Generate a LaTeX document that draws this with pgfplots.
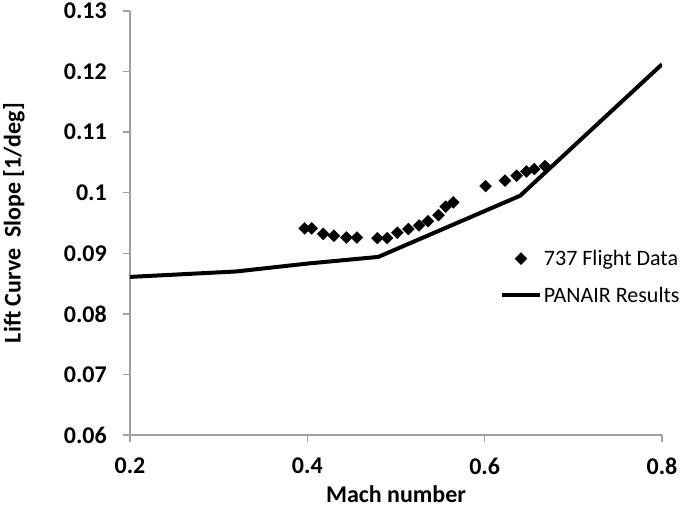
\documentclass[border=0pt]{standalone}
\usepackage{fontspec}
\setmainfont{Carlito}
\usepackage{pgfplots}
\pgfplotsset{compat=1.18}
\definecolor{axgray}{RGB}{160,160,160}
\pgfplotsset{
  markleg/.style={legend image code/.code={\path[draw=none,fill=none] (0pt,0pt) -- (38pt,0pt);\draw[##1] plot coordinates {(19pt,0pt)};}},
  lineleg/.style={legend image code/.code={\draw[##1] (0pt,0pt) -- (38pt,0pt);}},
}

\begin{document}
\begin{tikzpicture}[x=1pt,y=1pt]
\begin{axis}[
  scale only axis, width=532pt, height=424pt,
  at={(130pt,81pt)}, anchor=south west,
  xmin=0.2, xmax=0.8, ymin=0.06, ymax=0.13,
  axis x line*=bottom, axis y line*=left,
  axis line style={axgray, line width=1.5pt},
  xtick={0.2,0.4,0.6,0.8},
  ytick={0.06,0.07,0.08,0.09,0.1,0.11,0.12,0.13},
  tick align=outside, major tick length=7pt,
  tick style={axgray, line width=1.5pt},
  /pgf/number format/assume math mode=true,
  /pgf/number format/fixed, /pgf/number format/precision=2,
  ticklabel style={font=\fontsize{24}{28}\selectfont\bfseries},
  yticklabel style={anchor=east, inner sep=0pt, xshift=-16pt},
  xticklabel style={anchor=north, inner sep=0pt, yshift=-16pt},
  xlabel={Mach number},
  ylabel={Lift Curve\ \ Slope [1/deg]},
  label style={font=\fontsize{24}{28}\selectfont\bfseries},
  xlabel style={at={(axis description cs:0.5,-0.139)}, anchor=center},
  ylabel style={at={(axis description cs:-0.218,0.5)}, anchor=center},
  legend style={at={(axis description cs:0.695,0.441)}, anchor=north west,
    draw=none, fill=none, font=\fontsize{22}{26}\selectfont,
    row sep=16pt, inner sep=0pt, nodes={inner sep=2pt}},
  legend cell align=left,
]
\addplot[only marks, mark=square*, mark size=4.2pt, mark options={rotate=45, black, fill=black}, markleg]
coordinates {
(0.397,0.0941)(0.405,0.0941)(0.418,0.0932)(0.430,0.0929)(0.444,0.0926)(0.456,0.0926)
(0.479,0.0925)(0.490,0.0925)(0.5015,0.0934)(0.514,0.0940)(0.526,0.0946)(0.536,0.0953)
(0.548,0.0963)(0.556,0.0977)(0.5645,0.0984)(0.601,0.1011)(0.623,0.1020)(0.636,0.1028)
(0.647,0.1035)(0.656,0.1039)(0.668,0.1044)
};
\addlegendentry{737 Flight Data}
\addplot[black, line width=4pt, lineleg]
coordinates {
(0.2,0.0861)(0.32,0.0870)(0.40,0.0883)(0.48,0.0894)(0.64,0.0995)(0.8,0.1212)
};
\addlegendentry{PANAIR Results}
\end{axis}
\pgfresetboundingbox
\path[use as bounding box] (0,0) rectangle (685pt,516pt);
\end{tikzpicture}
\end{document}
